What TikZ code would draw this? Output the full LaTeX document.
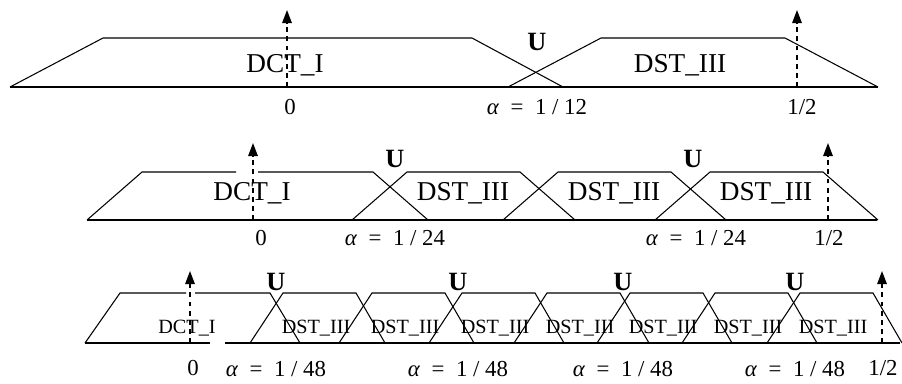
\documentclass[tikz,border=0pt]{standalone}
\usepackage{fontspec}
\setmainfont{Liberation Serif}
\usetikzlibrary{arrows.meta}
\tikzset{
  band/.style={line width=.6pt},
  axis/.style={line width=.9pt},
  marker/.style={line width=.8pt,dash pattern=on 2.8pt off 2.4pt,-{Triangle[length=2.6mm,width=1.9mm]}},
  big/.style={inner sep=0pt,anchor=base,font=\fontsize{15.5}{18}\selectfont},
  small/.style={inner sep=0pt,anchor=base,font=\fontsize{11.5}{13}\selectfont},
  ulab/.style={inner sep=0pt,anchor=base,font=\fontsize{15}{17}\selectfont\bfseries},
  alab/.style={inner sep=0pt,anchor=base,font=\fontsize{13}{15}\selectfont},
  tlab/.style={inner sep=0pt,anchor=base,font=\fontsize{13}{15}\selectfont}
}
\newcommand{\alphaeq}[1]{\textit{α}\enspace=\enspace1 / #1}
\begin{document}
\begin{tikzpicture}[x=.02cm,y=-.02cm]
\useasboundingbox (0,0) rectangle (902,383);
% top row: alpha = 1/12
\draw[axis](10,87)--(878,87);
\draw[band](10,87)--(103,38)--(472,38)--(563,87);
\draw[band](508,87)--(601,38)--(785,38)--(878,87);
\coordinate(za)at(287,87);\coordinate(zat)at(287,10);
\coordinate(ha)at(797,87);\coordinate(hat)at(797,10);
\draw[marker](za)--(zat);\draw[marker](ha)--(hat);
\node[big](dcta)at(285,72){DCT\_I};
\node[big](dsta)at(680,72){DST\_III};
\node[ulab](ua)at(537,50){U};
\node[tlab](zeroa)at(290,114){0};
\node[alab](alfa)at(537,114){\alphaeq{12}};
\node[tlab](halfa)at(802,114){1/2};
% middle row: alpha = 1/24
\draw[axis](87,220)--(877,220);
\draw[band](87,220)--(142,172)--(236,172);
\draw[band](258,172)--(373,172)--(428,220);
\foreach \l in {352,503,655}{
  \draw[band](\l,220)--++(55,-48)--++(113,0)--++(55,48);
  \node[big](dstb\l)at(\l+111,200){DST\_III};
}
\coordinate(zb)at(253,220);\coordinate(zbt)at(253,143);
\coordinate(hb)at(828,220);\coordinate(hbt)at(828,143);
\draw[marker](zb)--(zbt);\draw[marker](hb)--(hbt);
\node[big](dctb)at(252,200){DCT\_I};
\foreach \x/\n in {395/1,696/2}{
  \node[ulab](ub\n)at(\x-3*\n+3,167){U};
  \node[alab](alfb\n)at(\x,245){\alphaeq{24}};
}
\node[tlab](zerob)at(261,245){0};
\node[tlab](halfb)at(829,245){1/2};
% bottom row: alpha = 1/48
\draw[axis](85,343)--(210,343);
\draw[axis](225,343)--(900,343);
\draw[band](85,343)--(120,293)--(186,293);
\draw[band](195,293)--(270,293)--(300,343);
\foreach \l in {250,339,429,514,597,682,767}{
  \draw[band](\l,343)--++(33,-50)--++(73,0)--++(29,50);
  \node[small](dstc\l)at(\l+66,333){DST\_III};
}
\coordinate(zc)at(190,343);\coordinate(zct)at(190,271);
\coordinate(hc)at(882,343);\coordinate(hct)at(882,271);
\draw[marker](zc)--(zct);\draw[marker](hc)--(hct);
\node[small](dctc)at(187,333){DCT\_I};
\foreach \x/\n in {276/1,458/2,623/3,795/4}{
  \node[ulab](uc\n)at(\x,290){U};
  \node[alab](alfc\n)at(\x,376){\alphaeq{48}};
}
\node[tlab](zeroc)at(193,375){0};
\node[tlab](halfc)at(883,375){1/2};
\end{tikzpicture}
\end{document}
